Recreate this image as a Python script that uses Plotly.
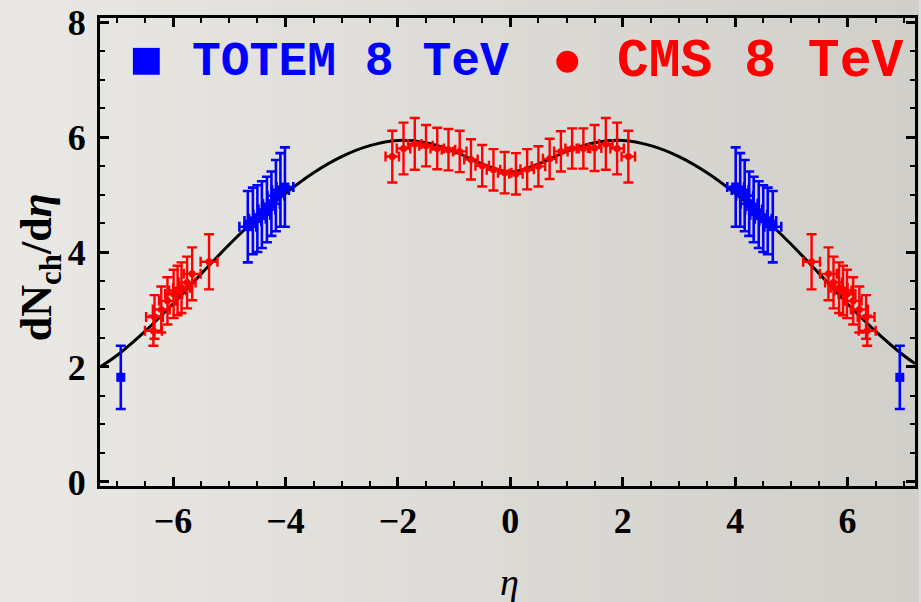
import plotly.graph_objects as go

# ---------------- data ----------------
curve_eta = [-7.3, -7.0, -6.5, -6.0, -5.5, -5.0, -4.5, -4.0, -3.5, -3.0, -2.5, -2.0, -1.5, -1.0, -0.5, 0.0,
             0.5, 1.0, 1.5, 2.0, 2.5, 3.0, 3.5, 4.0, 4.5, 5.0, 5.5, 6.0, 6.5, 7.0, 7.2]
curve_val = [2.00, 2.20, 2.62, 3.10, 3.62, 4.13, 4.60, 5.02, 5.38, 5.66, 5.85, 5.94, 5.90, 5.75, 5.53, 5.39,
             5.53, 5.75, 5.90, 5.94, 5.85, 5.66, 5.38, 5.02, 4.60, 4.13, 3.62, 3.10, 2.62, 2.20, 2.06]

totem_eta = [-6.93, -4.67, -4.58, -4.50, -4.42, -4.33, -4.25, -4.17, -4.09, -4.01,
             4.01, 4.09, 4.17, 4.25, 4.33, 4.42, 4.50, 4.58, 4.67, 6.93]
totem_val = [1.82, 4.44, 4.54, 4.58, 4.65, 4.74, 4.84, 4.98, 5.08, 5.13,
             5.13, 5.08, 4.98, 4.84, 4.74, 4.65, 4.58, 4.54, 4.44, 1.82]
totem_err = [0.55, 0.62, 0.58, 0.58, 0.58, 0.57, 0.56, 0.62, 0.64, 0.69,
             0.69, 0.64, 0.62, 0.56, 0.57, 0.58, 0.58, 0.58, 0.62, 0.55]
totem_xerr = [0.0, 0.15, 0.15, 0.15, 0.15, 0.15, 0.15, 0.15, 0.15, 0.15,
              0.15, 0.15, 0.15, 0.15, 0.15, 0.15, 0.15, 0.15, 0.15, 0.0]

cms_eta = [-6.35, -6.33, -6.21, -6.10, -5.99, -5.92, -5.85, -5.75, -5.66, -5.36,
           -2.1, -1.9, -1.7, -1.5, -1.3, -1.1, -0.9, -0.7, -0.5, -0.3, -0.1,
           0.1, 0.3, 0.5, 0.7, 0.9, 1.1, 1.3, 1.5, 1.7, 1.9, 2.1,
           5.36, 5.66, 5.75, 5.85, 5.92, 5.99, 6.10, 6.21, 6.33, 6.35]
cms_val = [2.63, 2.87, 3.00, 3.15, 3.27, 3.33, 3.38, 3.47, 3.62, 3.83,
           5.66, 5.80, 5.88, 5.85, 5.80, 5.78, 5.75, 5.61, 5.50, 5.43, 5.38,
           5.36, 5.44, 5.49, 5.62, 5.75, 5.80, 5.80, 5.81, 5.88, 5.80, 5.66,
           3.83, 3.62, 3.47, 3.38, 3.33, 3.27, 3.15, 3.00, 2.87, 2.63]
cms_err = [0.26, 0.38, 0.40, 0.41, 0.42, 0.43, 0.44, 0.45, 0.46, 0.48,
           0.45, 0.45, 0.45, 0.36, 0.36, 0.36, 0.36, 0.35, 0.36, 0.36, 0.36,
           0.36, 0.35, 0.35, 0.35, 0.35, 0.35, 0.35, 0.40, 0.45, 0.45, 0.45,
           0.48, 0.46, 0.45, 0.44, 0.43, 0.42, 0.41, 0.40, 0.38, 0.26]
cms_xerr = [0.15] * 10 + [0.12] * 22 + [0.15] * 10

x_ticks = [-6, -4, -2, 0, 2, 4, 6]
y_ticks = [0, 2, 4, 6, 8]

# ---------------- layout helpers ----------------
W, H = 921, 602
L, R, T, B = 100, 3, 16, 116
PW, PH = W - L - R, H - T - B


def px(x):
    return (x - L) / PW


def py(y):
    return (T + PH - y) / PH


fig = go.Figure()

fig.add_trace(go.Scatter(x=curve_eta, y=curve_val, mode="lines",
                         line=dict(color="black", width=3, shape="spline", smoothing=1.0),
                         showlegend=False, hoverinfo="skip"))

fig.add_trace(go.Scatter(x=totem_eta, y=totem_val, mode="markers",
                         marker=dict(symbol="square", size=9, color="#0000ff"),
                         error_y=dict(type="data", array=totem_err, color="#0000ff", thickness=2.6, width=5),
                         error_x=dict(type="data", array=totem_xerr, color="#0000ff", thickness=2.6, width=5),
                         name="TOTEM 8 TeV", showlegend=False))

fig.add_trace(go.Scatter(x=cms_eta, y=cms_val, mode="markers",
                         marker=dict(symbol="circle", size=7, color="#ff0000"),
                         error_y=dict(type="data", array=cms_err, color="#ff0000", thickness=2.4, width=5),
                         error_x=dict(type="data", array=cms_xerr, color="#ff0000", thickness=2.4, width=5),
                         name="CMS 8 TeV", showlegend=False))

# background gradient (decoration)
shapes = []
N = 40
c0 = (234, 232, 228)
c1 = (209, 207, 202)
for i in range(N):
    t = i / (N - 1)
    col = tuple(int(round(c0[k] + (c1[k] - c0[k]) * t)) for k in range(3))
    x0 = i * W / N - 1
    x1 = (i + 1) * W / N + 1
    shapes.append(dict(type="rect", xref="paper", yref="paper",
                       x0=px(x0), x1=px(x1), y0=py(H + 2), y1=py(-2),
                       fillcolor="rgb(%d,%d,%d)" % col, line=dict(width=0), layer="below"))

# legend glyphs
shapes.append(dict(type="rect", xref="paper", yref="paper",
                   x0=px(133), x1=px(160), y0=py(73), y1=py(46),
                   fillcolor="#0000ff", line=dict(width=0)))
shapes.append(dict(type="circle", xref="paper", yref="paper",
                   x0=px(558), x1=px(580), y0=py(71), y1=py(49),
                   fillcolor="#ff0000", line=dict(width=0)))

annotations = [
    dict(text="TOTEM 8 TeV", xref="paper", yref="paper", x=px(190), y=py(60),
         xanchor="left", yanchor="middle", showarrow=False,
         font=dict(family="Liberation Mono", size=48, color="#0000ff", weight="bold")),
    dict(text="CMS 8 TeV", xref="paper", yref="paper", x=px(617), y=py(60),
         xanchor="left", yanchor="middle", showarrow=False,
         font=dict(family="Liberation Mono", size=53, color="#ff0000", weight="bold")),
    dict(text="dN<sub>ch</sub>/d<i>η</i>", xref="paper", yref="paper", x=px(40), y=py(266),
         xanchor="center", yanchor="middle", showarrow=False, textangle=-90,
         font=dict(family="Liberation Serif", size=44, color="black", weight="bold")),
    dict(text="<i>η</i>", xref="paper", yref="paper", x=px(511), y=py(582),
         xanchor="center", yanchor="middle", showarrow=False,
         font=dict(family="Liberation Serif", size=38, color="black")),
]

axis_common = dict(showline=True, linecolor="black", linewidth=3, mirror="allticks",
                   ticks="inside", ticklen=9, tickwidth=2.5, tickcolor="black",
                   showgrid=False, zeroline=False,
                   tickfont=dict(family="Liberation Serif", size=36, color="black", weight="bold"),
                   minor=dict(ticks="inside", ticklen=5, tickwidth=2, tickcolor="black", dtick=0.5, showgrid=False))

fig.update_layout(
    width=W, height=H,
    margin=dict(l=L, r=R, t=T, b=B, pad=0),
    paper_bgcolor="#dedcd8",
    plot_bgcolor="rgba(0,0,0,0)",
    shapes=shapes,
    annotations=annotations,
    xaxis=dict(range=[-7.3, 7.2], tickvals=x_ticks, ticklabelstandoff=1, **axis_common),
    yaxis=dict(range=[-0.07, 8.07], tickvals=y_ticks, ticklabelstandoff=4, **axis_common),
)

fig.write_html("out.html", config={"displayModeBar": False},
               post_script="document.body.style.margin='0px';document.body.style.overflow='hidden';"
                           "document.body.style.background='#dedcd8';")
